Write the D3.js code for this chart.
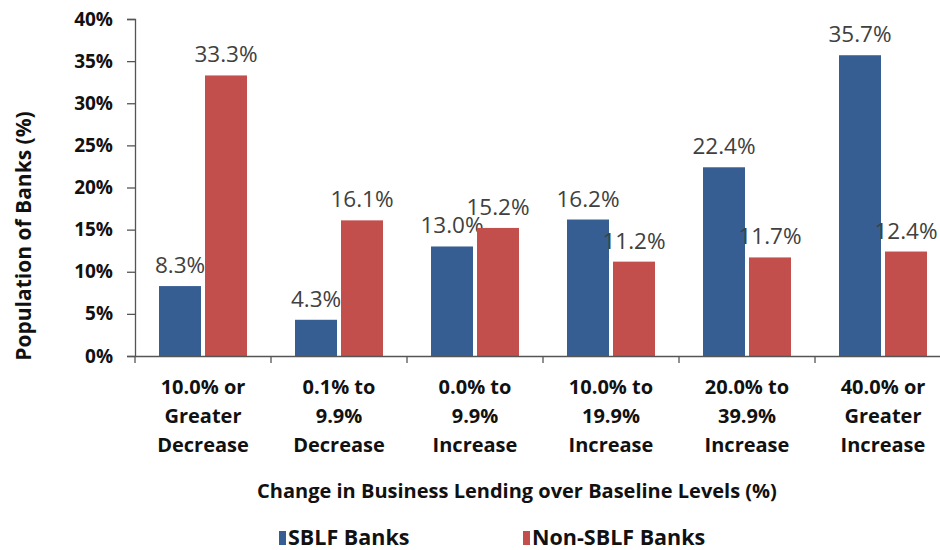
<!DOCTYPE html>
<html>
<head>
<meta charset="utf-8">
<script src="https://cdn.jsdelivr.net/npm/d3@7"></script>
<style>
  html, body { margin: 0; padding: 0; background: #fff; }
  svg { display: block; }
</style>
</head>
<body>
<svg id="chart" width="940" height="550"></svg>
<script>
const categories = [
  ["10.0% or", "Greater", "Decrease"],
  ["0.1% to", "9.9%", "Decrease"],
  ["0.0% to", "9.9%", "Increase"],
  ["10.0% to", "19.9%", "Increase"],
  ["20.0% to", "39.9%", "Increase"],
  ["40.0% or", "Greater", "Increase"]
];
const seriesNames = ["SBLF Banks", "Non-SBLF Banks"];
const sblfValues = [8.3, 4.3, 13.0, 16.2, 22.4, 35.7];
const nonSblfValues = [33.3, 16.1, 15.2, 11.2, 11.7, 12.4];
const yTicks = [0, 5, 10, 15, 20, 25, 30, 35, 40];
const colors = ["#375E93", "#C24F4C"];

const svg = d3.select("#chart");
const catKeys = categories.map(c => c.join(" "));
const seriesValues = [sblfValues, nonSblfValues];

const x0 = d3.scaleBand().domain(catKeys).range([135, 951]).paddingInner(0).paddingOuter(0);
const x1 = d3.scaleBand().domain(seriesNames).range([0, x0.bandwidth()]).paddingInner(0.087).paddingOuter(0.522);
const y = d3.scaleLinear().domain([0, 40]).range([356, 19]);

// Bars
catKeys.forEach((key, i) => {
  const g = svg.append("g").attr("transform", `translate(${x0(key)},0)`);
  seriesNames.forEach((s, j) => {
    const v = seriesValues[j][i];
    g.append("rect")
      .attr("x", x1(s))
      .attr("y", y(v))
      .attr("width", x1.bandwidth())
      .attr("height", y(0) - y(v))
      .attr("fill", colors[j]);
    g.append("text")
      .attr("x", x1(s) + x1.bandwidth() / 2)
      .attr("y", y(v) - 13)
      .attr("text-anchor", "middle")
      .attr("font-family", "'Open Sans', sans-serif")
      .attr("font-size", 22.5)
      .attr("fill", "#404040")
      .text(v.toFixed(1) + "%");
  });
});

// Y axis
const yAxis = d3.axisLeft(y).tickValues(yTicks).tickFormat(d => d + "%").tickSize(8).tickPadding(14);
const yg = svg.append("g").attr("transform", "translate(135,0)").call(yAxis);
yg.select(".domain").attr("stroke", "#555").attr("stroke-width", 1.3);
yg.selectAll(".tick line").attr("stroke", "#555").attr("stroke-width", 1.3);
yg.selectAll(".tick text")
  .attr("font-family", "'Open Sans', sans-serif")
  .attr("font-weight", "bold")
  .attr("font-size", 19)
  .attr("fill", "#111");

// X axis
const xAxis = d3.axisBottom(x0).tickValues([]).tickSizeOuter(0);
const xg = svg.append("g").attr("transform", `translate(0,${y(0)})`).call(xAxis);
xg.select(".domain").attr("stroke", "#555").attr("stroke-width", 1.3);
catKeys.forEach(key => {
  xg.append("line")
    .attr("x1", x0(key)).attr("x2", x0(key))
    .attr("y1", 0).attr("y2", 7)
    .attr("stroke", "#555").attr("stroke-width", 1.3);
});

// Category labels
categories.forEach((lines, i) => {
  const t = svg.append("text")
    .attr("text-anchor", "middle")
    .attr("font-family", "'Open Sans', sans-serif")
    .attr("font-weight", "bold")
    .attr("font-size", 20)
    .attr("fill", "#111");
  lines.forEach((ln, k) => {
    t.append("tspan")
      .attr("x", x0(catKeys[i]) + x0.bandwidth() / 2)
      .attr("y", 394 + k * 29)
      .text(ln);
  });
});

// Axis titles
svg.append("text")
  .attr("x", 517).attr("y", 498)
  .attr("text-anchor", "middle")
  .attr("font-family", "'Open Sans', sans-serif")
  .attr("font-weight", "bold")
  .attr("font-size", 20)
  .attr("fill", "#111")
  .text("Change in Business Lending over Baseline Levels (%)");

svg.append("text")
  .attr("transform", "translate(31,236) rotate(-90)")
  .attr("text-anchor", "middle")
  .attr("font-family", "'Open Sans', sans-serif")
  .attr("font-weight", "bold")
  .attr("font-size", 21)
  .attr("fill", "#111")
  .text("Population of Banks (%)");

// Legend
const legendX = [279, 523];
seriesNames.forEach((s, j) => {
  svg.append("rect")
    .attr("x", legendX[j]).attr("y", 531)
    .attr("width", 7).attr("height", 14)
    .attr("fill", colors[j]);
  svg.append("text")
    .attr("x", legendX[j] + 9).attr("y", 545)
    .attr("font-family", "'Open Sans', sans-serif")
    .attr("font-weight", "bold")
    .attr("font-size", 21.5)
    .attr("fill", "#111")
    .text(s);
});
</script>
</body>
</html>
